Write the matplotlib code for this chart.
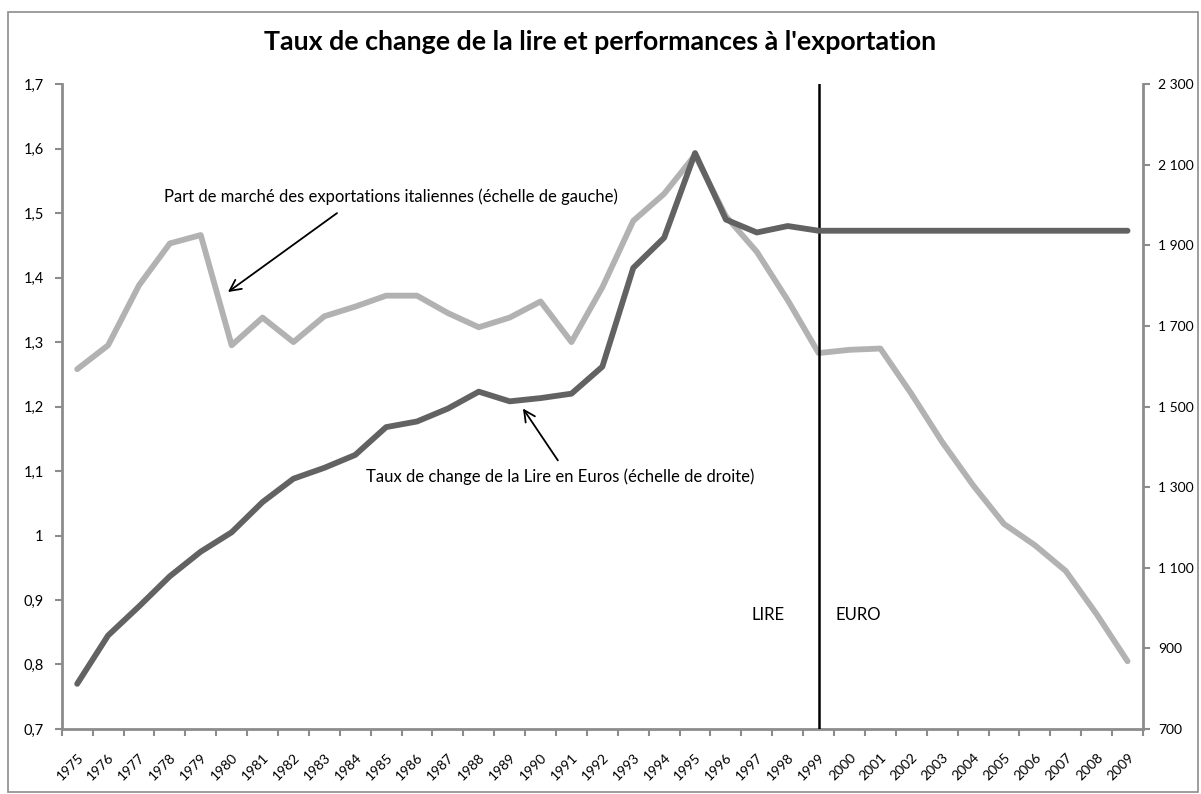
import matplotlib.pyplot as plt
from matplotlib.patches import Rectangle
import numpy as np

plt.rcParams['font.family'] = ['Lato', 'DejaVu Sans']

years = list(range(1975, 2010))

# part de marche des exportations italiennes (left scale)
part_marche = [1.258, 1.295, 1.388, 1.453, 1.466, 1.295, 1.338, 1.300, 1.340, 1.355,
               1.372, 1.372, 1.345, 1.323, 1.338, 1.363, 1.300, 1.385, 1.488, 1.530,
               1.590, 1.495, 1.440, 1.365, 1.283, 1.288, 1.290, 1.220, 1.145, 1.078,
               1.018, 0.985, 0.945, 0.878, 0.805]

# lire par euro (right scale)
taux_lire = [812, 932, 1004, 1079, 1140, 1188, 1263, 1321, 1348, 1380,
             1449, 1463, 1495, 1537, 1513, 1521, 1532, 1599, 1844, 1919,
             2129, 1964, 1932, 1948, 1936.27, 1936.27, 1936.27, 1936.27, 1936.27, 1936.27,
             1936.27, 1936.27, 1936.27, 1936.27, 1936.27]

left_ticks = [0.7, 0.8, 0.9, 1.0, 1.1, 1.2, 1.3, 1.4, 1.5, 1.6, 1.7]
left_labels = ['0,7', '0,8', '0,9', '1', '1,1', '1,2', '1,3', '1,4', '1,5', '1,6', '1,7']
right_ticks = [700, 900, 1100, 1300, 1500, 1700, 1900, 2100, 2300]
right_labels = ['700', '900', '1 100', '1 300', '1 500', '1 700', '1 900', '2 100', '2 300']

light = '#b2b2b2'
dark = '#626262'
axis_col = '#8c8c8c'

fig = plt.figure(figsize=(12.01, 7.94), dpi=100)
fig.patches.append(Rectangle((8 / 1201, 1 - 792 / 794), 1190 / 1201, 780 / 794,
                             transform=fig.transFigure, fill=False,
                             edgecolor='#8c8c8c', linewidth=1.2, zorder=0))

ax = fig.add_axes([0.0514, 0.0819, 0.9003, 0.8121])
ax2 = ax.twinx()

x = np.arange(len(years))
ax.plot(x, part_marche, color=light, linewidth=4.2, solid_capstyle='round',
        solid_joinstyle='round', zorder=2)
ax2.plot(x, taux_lire, color=dark, linewidth=4.2, solid_capstyle='round',
         solid_joinstyle='round', zorder=3)

ax.set_xlim(-0.5, len(years) - 0.5)
ax.set_ylim(0.7, 1.7)
ax2.set_ylim(700, 2300)

ax.set_yticks(left_ticks)
ax.set_yticklabels(left_labels)
ax2.set_yticks(right_ticks)
ax2.set_yticklabels(right_labels)

# x ticks at category boundaries, labels at centers
ax.set_xticks(np.arange(len(years) + 1) - 0.5)
ax.set_xticklabels([])
ax.set_xticks(x, minor=True)
ax.set_xticklabels([str(y) for y in years], minor=True, rotation=45,
                   ha='right', rotation_mode='anchor', fontsize=10)
ax.tick_params(axis='x', which='minor', length=0, pad=16)
ax.tick_params(axis='x', which='major', length=5, width=1.5, color=axis_col, direction='out')
ax.tick_params(axis='y', length=5, width=1.5, color=axis_col, labelsize=10.5, pad=8)
ax2.tick_params(axis='y', length=5, width=1.5, color=axis_col, labelsize=10, pad=6)

for a in (ax, ax2):
    a.spines['top'].set_visible(False)
    for s in ('left', 'right', 'bottom'):
        a.spines[s].set_color(axis_col)
        a.spines[s].set_linewidth(2)
ax.spines['right'].set_visible(False)
ax2.spines['left'].set_visible(False)
ax2.spines['bottom'].set_visible(False)

# ligne de separation lire / euro
ax.axvline(years.index(1999), ymin=0, ymax=1, color='black', linewidth=1.8, zorder=5)
ax.text(22.36, 0.876, 'LIRE', fontsize=12, ha='center', va='center')
ax.text(25.27, 0.876, 'EURO', fontsize=12, ha='center', va='center')

arrow = dict(arrowstyle='->', color='black', lw=1.3, shrinkA=0, shrinkB=0, mutation_scale=20)
ax.text(10.16, 1.525, 'Part de marché des exportations italiennes (échelle de gauche)',
        fontsize=12, ha='center', va='center', zorder=6)
ax.annotate('', xy=(4.88, 1.3776), xytext=(8.41, 1.500), arrowprops=arrow, zorder=6)
ax.text(15.64, 1.0916, 'Taux de change de la Lire en Euros (échelle de droite)',
        fontsize=12, ha='center', va='center', zorder=6)
ax.annotate('', xy=(14.43, 1.197), xytext=(15.56, 1.1165), arrowprops=arrow, zorder=6)

fig.text(0.5, 1 - 42 / 794, "Taux de change de la lire et performances à l'exportation",
         ha='center', va='center', fontsize=19.3, fontweight='bold')

fig.savefig('out.png', dpi=100)
